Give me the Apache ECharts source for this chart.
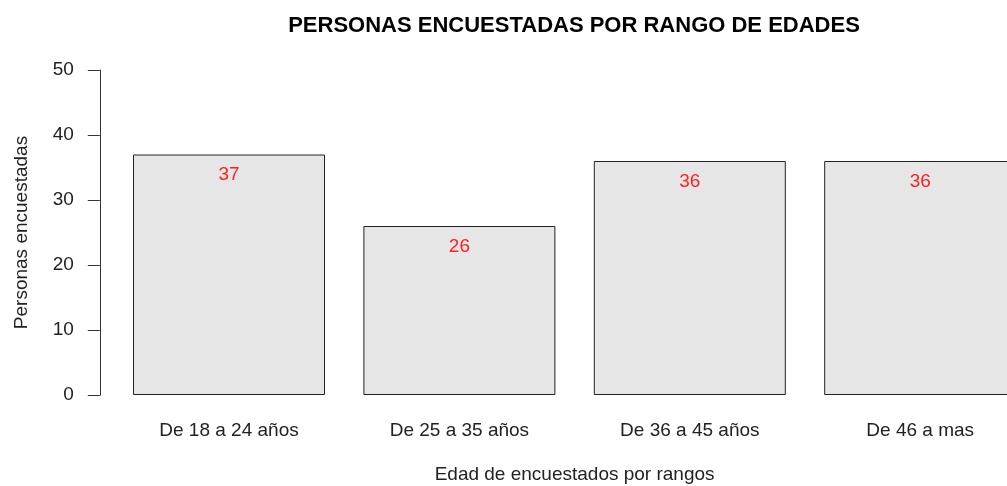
<!DOCTYPE html>
<html>
<head>
<meta charset="utf-8">
<script src="https://cdn.jsdelivr.net/npm/echarts@6/dist/echarts.min.js"></script>
<style>
  html, body { margin: 0; padding: 0; background: #fff; }
  #chart { width: 1007px; height: 486px; }
</style>
</head>
<body>
<div id="chart"></div>
<script>
// datos del grafico
var rangos = ['De 18 a 24 años', 'De 25 a 35 años', 'De 36 a 45 años', 'De 46 a mas'];
var personas = [37, 26, 36, 36];
var ticksY = [0, 10, 20, 30, 40, 50];

window.onload = function () {
  var chart = echarts.init(document.getElementById('chart'));
  var fuente = 'Liberation Sans, Arial, sans-serif';

  var option = {
    animation: false,
    backgroundColor: '#ffffff',
    title: {
      text: 'PERSONAS ENCUESTADAS POR RANGO DE EDADES',
      left: 569,
      top: 10,
      textAlign: 'center',
      textStyle: {
        fontFamily: fuente,
        fontWeight: 'bold',
        fontSize: 22,
        color: '#000'
      }
    },
    // el area del grafico se sale por la derecha, como en el original
    grid: {
      left: 113.8,
      top: 70,
      width: 921.6,
      height: 325,
      outerBoundsMode: 'none',
      containLabel: false
    },
    xAxis: {
      type: 'category',
      data: rangos,
      boundaryGap: true,
      name: 'Edad de encuestados por rangos',
      nameLocation: 'middle',
      nameGap: 70,
      nameTextStyle: { fontFamily: fuente, fontSize: 19, color: '#222' },
      axisLine: { show: false },
      axisTick: { show: false },
      axisLabel: {
        margin: 26,
        fontFamily: fuente,
        fontSize: 19,
        color: '#222',
        interval: 0
      }
    },
    yAxis: {
      type: 'value',
      min: ticksY[0],
      max: ticksY[ticksY.length - 1],
      interval: 10,
      offset: 14,
      name: 'Personas encuestadas',
      nameLocation: 'middle',
      nameGap: 69,
      nameTextStyle: { fontFamily: fuente, fontSize: 19, color: '#222' },
      axisLine: { show: true, lineStyle: { color: '#333', width: 1 } },
      axisTick: { show: true, length: 12, lineStyle: { color: '#333', width: 1 } },
      axisLabel: {
        margin: 26,
        padding: [8, 0, 0, 0],
        fontFamily: fuente,
        fontSize: 19,
        color: '#222'
      },
      splitLine: { show: false }
    },
    series: [{
      type: 'bar',
      data: personas,
      barWidth: 192,
      itemStyle: {
        color: '#e6e6e6',
        borderColor: '#222',
        borderWidth: 1
      },
      label: {
        show: true,
        position: 'insideTop',
        distance: 11,
        fontFamily: fuente,
        fontSize: 19,
        color: '#ff2020'
      }
    }]
  };

  chart.setOption(option);
};
</script>
</body>
</html>
